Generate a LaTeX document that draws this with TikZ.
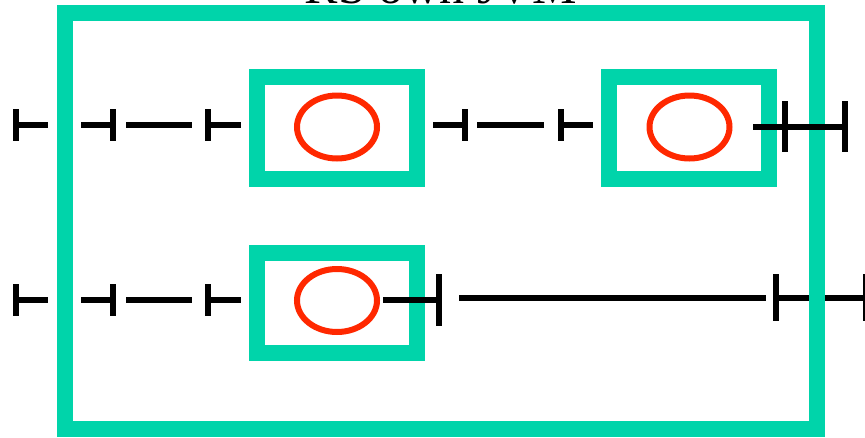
\documentclass[tikz,border=0pt]{standalone}
\usepackage{fontspec}
\setmainfont{Liberation Serif}
\usetikzlibrary{shapes.geometric}
\definecolor{vmteal}{RGB}{0,212,170}
\definecolor{objred}{RGB}{255,40,0}
\begin{document}
\begin{tikzpicture}[x=1pt,y=-1pt,
  frame/.style={draw=vmteal,line width=16pt,rectangle,inner sep=0pt},
  hostbox/.style={frame,minimum width=160pt,minimum height=102pt},
  obj/.style={draw=objred,line width=6pt,ellipse,inner sep=0pt,
              minimum width=80pt,minimum height=63pt},
  wire/.style={draw=black,line width=6pt,line cap=butt},
]
\clip (0,0) rectangle (865,437);
\fill[white] (0,0) rectangle (865,437);

% far-right wire of the second row passes under the VM frame
\coordinate (j1) at (459,297.5);
\coordinate (j2) at (766,297.5);
\coordinate (k1) at (776,297.5);
\coordinate (k2) at (866,297.5);
\draw[wire] (j1) -- (j2);
\draw[wire] (k1) -- (k2);
\draw[wire] (776,274) -- (776,321);
\draw[wire] (866,274) -- (866,321);

% VM frame and its caption
\node[font=\fontsize{50}{60}\selectfont,anchor=base] (title) at (441,3) {RS own JVM};
\node[frame,minimum width=752pt,minimum height=416pt] (vm) at (441,221) {};

% hosted boxes with their objects
\node[hostbox] (boxA) at (337,128) {};
\node[hostbox] (boxB) at (689,128) {};
\node[hostbox,minimum height=100pt] (boxC) at (337,303) {};
\node[obj] (oA) at (337,127) {};
\node[obj] (oB) at (689.5,127) {};
\node[obj] (oC) at (337,300.5) {};

% left-hand chain, drawn for both rows
\foreach \r/\h in {125/16,300/16}{
  \draw[wire] (16,\r) -- (48,\r);
  \draw[wire] (16,\r-\h) -- (16,\r+\h);
  \draw[wire] (81,\r) -- (113,\r);
  \draw[wire] (113,\r-\h) -- (113,\r+\h);
  \draw[wire] (126,\r) -- (192,\r);
  \draw[wire] (208,\r) -- (241,\r);
  \draw[wire] (208,\r-\h) -- (208,\r+\h);
}

% first row between the two boxes
\coordinate (e1) at (433,125);
\coordinate (e2) at (465,125);
\coordinate (f1) at (477,125);
\coordinate (f2) at (544,125);
\coordinate (g1) at (561,125);
\coordinate (g2) at (593,125);
\draw[wire] (e1) -- (e2);
\draw[wire] (465,109) -- (465,141);
\draw[wire] (f1) -- (f2);
\draw[wire] (g1) -- (g2);
\draw[wire] (561,109) -- (561,141);

% first row leaving box B
\coordinate (h1) at (753,126.5);
\coordinate (h2) at (845,126.5);
\draw[wire] (h1) -- (h2);
\draw[wire] (785,101) -- (785,152);
\draw[wire] (845,101) -- (845,152);

% second row leaving the object in box C
\coordinate (i1) at (383,300);
\coordinate (i2) at (439,300);
\draw[wire] (i1) -- (i2);
\draw[wire] (439,274) -- (439,326);
\end{tikzpicture}
\end{document}
